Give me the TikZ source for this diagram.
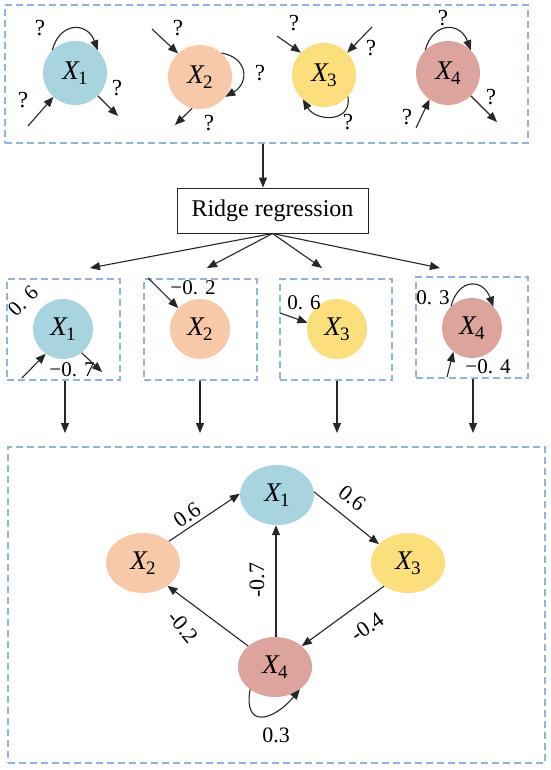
\documentclass[tikz,border=0pt]{standalone}
\usepackage{fontspec}
\setmainfont{Liberation Serif}
\usetikzlibrary{arrows.meta,shapes.geometric}
\definecolor{cblue}{HTML}{A8D4E0}
\definecolor{cpeach}{HTML}{F8C9A8}
\definecolor{cyel}{HTML}{FBDF7D}
\definecolor{crose}{HTML}{DDA39D}
\definecolor{dashc}{HTML}{8DB4E2}
\newcommand{\xn}[1]{\textit{X}\kern-1.5pt\raisebox{-5pt}{\fontsize{19}{19}\selectfont #1}}
\begin{document}
\begin{tikzpicture}[x=1pt,y=1pt,
  dashbox/.style={draw=dashc, line width=1.3pt, dash pattern=on 7pt off 4pt, inner sep=0pt},
  bigc/.style={circle, minimum size=64pt, inner sep=0pt, font=\fontsize{27}{28}\selectfont},
  smallc/.style={circle, minimum size=60pt, inner sep=0pt, font=\fontsize{27}{28}\selectfont},
  ell/.style={ellipse, minimum width=74pt, minimum height=60pt, inner sep=0pt, font=\fontsize{27}{28}\selectfont},
  arr/.style={draw=black!85, line width=1.1pt, -{Triangle[length=10pt,width=8pt]}},
  q/.style={font=\fontsize{23}{24}\selectfont, inner sep=0pt},
  lbl/.style={font=\fontsize{21}{24}\selectfont, inner sep=0pt},
  elbl/.style={font=\fontsize{22}{24}\selectfont, inner sep=0pt}
]
\useasboundingbox (0,0) rectangle (550,-770);
\fill[white] (0,0) rectangle (550,-770);

% ---------- top box ----------
\node[dashbox, minimum width=523pt, minimum height=138pt] (topbox) at (266.5,-74) {};
\node[bigc, fill=cblue]  (a1) at (75,-73)  {\xn{1}};
\node[bigc, fill=cpeach] (a2) at (200,-77) {\xn{2}};
\node[bigc, fill=cyel]   (a3) at (324,-75) {\xn{3}};
\node[bigc, fill=crose]  (a4) at (448,-73) {\xn{4}};

% X1
\draw[arr] (a1.135) to[out=75,in=110,looseness=1.7] (a1.45);
\node[q] (qa1a) at (40,-28) {?};
\coordinate (ia1) at (28,-126);
\draw[arr] (ia1) -- (a1.228);
\node[q] (qa1b) at (23,-100) {?};
\coordinate (oa1) at (118,-116);
\draw[arr] (a1.-45) -- (oa1);
\node[q] (qa1c) at (117,-88) {?};
% X2
\coordinate (ia2) at (152,-29);
\draw[arr] (ia2) -- (a2.133);
\node[q] (qa2a) at (178,-28) {?};
\draw[arr] (a2.48) to[out=-10,in=30,looseness=1.6] (a2.-38);
\node[q] (qa2b) at (260,-73) {?};
\coordinate (oa2) at (175,-125);
\draw[arr] (a2.256) -- (oa2);
\node[q] (qa2c) at (209,-123) {?};
% X3
\coordinate (ia3a) at (277,-36);
\draw[arr] (ia3a) -- (a3.136);
\node[q] (qa3a) at (294,-23) {?};
\coordinate (ia3b) at (372,-27);
\draw[arr] (ia3b) -- (a3.44);
\node[q] (qa3b) at (371,-48) {?};
\draw[arr] (a3.-42) to[out=-80,in=-60,looseness=1.5] (a3.229);
\node[q] (qa3c) at (348,-122) {?};
% X4
\draw[arr] (a4.135) to[out=75,in=110,looseness=1.7] (a4.45);
\node[q] (qa4a) at (443,-18) {?};
\coordinate (ia4) at (416,-128);
\draw[arr] (ia4) -- (a4.235);
\node[q] (qa4b) at (407,-117) {?};
\coordinate (oa4) at (497,-122);
\draw[arr] (a4.-45) -- (oa4);
\node[q] (qa4c) at (491,-97) {?};

% ---------- ridge regression ----------
\node[draw=black!85, line width=1pt, minimum width=191pt, minimum height=45pt, inner sep=0pt,
      font=\fontsize{24}{26}\selectfont] (ridge) at (272.5,-210.5) {Ridge regression};
\draw[arr] (topbox.south -| 263,0) -- (ridge.north -| 263,0);
\coordinate (f1) at (90,-268);
\coordinate (f2) at (207,-268);
\coordinate (f3) at (322,-268);
\coordinate (f4) at (440,-268);
\foreach \f in {f1,f2,f3,f4} \draw[arr] (ridge.south) -- (\f);

% ---------- small boxes ----------
\node[dashbox, minimum width=113pt, minimum height=101pt] (b1) at (63.5,-329.5) {};
\node[dashbox, minimum width=113pt, minimum height=101pt] (b2) at (200.5,-329.5) {};
\node[dashbox, minimum width=112pt, minimum height=101pt] (b3) at (336,-329.5) {};
\node[dashbox, minimum width=112pt, minimum height=101pt] (b4) at (472,-327.5) {};
\node[smallc, fill=cblue]  (c1) at (63,-329)  {\xn{1}};
\node[smallc, fill=cpeach] (c2) at (200,-329) {\xn{2}};
\node[smallc, fill=cyel]   (c3) at (337,-329) {\xn{3}};
\node[smallc, fill=crose]  (c4) at (472,-328) {\xn{4}};

% c1
\node[lbl, rotate=45] (l1a) at (23,-301) {0. 6};
\coordinate (ic1) at (22,-378);
\draw[arr] (ic1) -- (c1.235);
\node[lbl] (l1b) at (72,-370) {−0. 7};
\coordinate (oc1) at (102,-372);
\draw[arr] (c1.-52) -- (oc1);
% c2
\coordinate (ic2) at (148,-278);
\draw[arr] (ic2) -- (c2.136);
\node[lbl] (l2a) at (193,-288) {−0. 2};
% c3
\coordinate (ic3) at (280,-313);
\draw[arr] (ic3) -- (c3.168);
\node[lbl] (l3a) at (304,-303) {0. 6};
% c4
\draw[arr] (c4.134) to[out=75,in=110,looseness=1.8] (c4.45);
\node[lbl] (l4a) at (433,-298) {0. 3};
\coordinate (ic4) at (447,-377);
\draw[arr] (ic4) -- (c4.232);
\node[lbl] (l4b) at (488,-367) {−0. 4};

% arrows down
\coordinate (d1) at (65,-433);
\coordinate (d2) at (200,-433);
\coordinate (d3) at (337,-433);
\coordinate (d4) at (473,-433);
\draw[arr] (b1.south -| d1) -- (d1);
\draw[arr] (b2.south -| d2) -- (d2);
\draw[arr] (b3.south -| d3) -- (d3);
\draw[arr] (b4.south -| d4) -- (d4);

% ---------- bottom box ----------
\node[dashbox, minimum width=537pt, minimum height=316pt] (botbox) at (276.5,-605) {};
\node[ell, fill=cblue]  (e1) at (277,-495) {\xn{1}};
\node[ell, fill=cpeach] (e2) at (143,-563) {\xn{2}};
\node[ell, fill=cyel]   (e3) at (408,-563) {\xn{3}};
\node[ell, fill=crose]  (e4) at (275,-667) {\xn{4}};

\draw[arr] (e2.40) -- (e1.178);
\draw[arr] (e1.5) -- (e3.147);
\draw[arr] (e4.north -| 276,0) -- (e1.south -| 276,0);
\draw[arr] (e3.224) -- (e4.38);
\draw[arr] (e4.142) -- (e2.-43);
\draw[arr] (e4.222) to[out=-100,in=-130,looseness=2.1] (e4.-42);

\node[elbl, rotate=35]  (m1) at (187,-515) {0.6};
\node[elbl, rotate=-38] (m2) at (352,-498) {0.6};
\node[elbl, rotate=90]  (m3) at (257,-580) {-0.7};
\node[elbl, rotate=35]  (m4) at (367,-627) {-0.4};
\node[elbl, rotate=-50] (m5) at (183,-627) {-0.2};
\node[elbl]             (m6) at (276,-735) {0.3};
\end{tikzpicture}
\end{document}
